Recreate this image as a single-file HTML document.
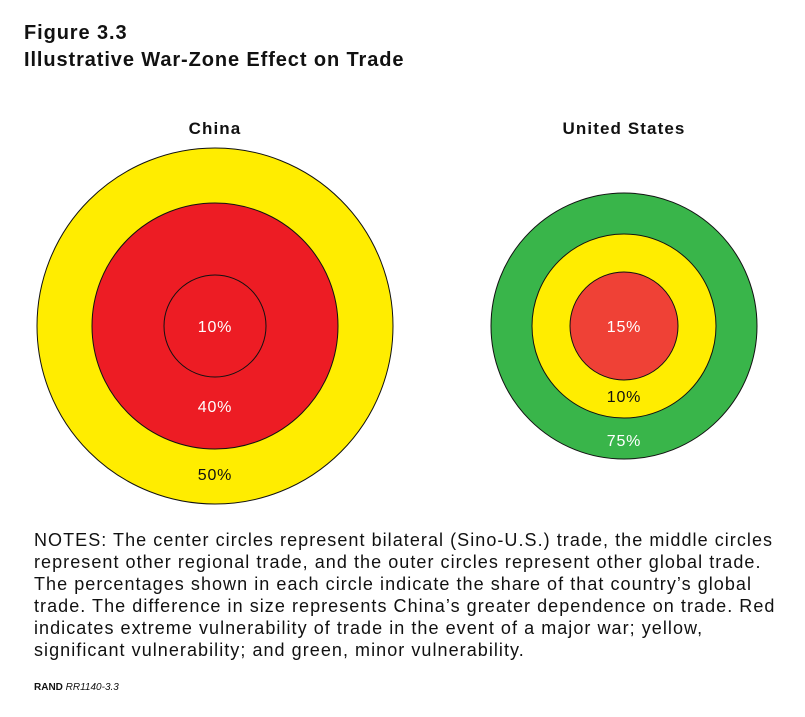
<!DOCTYPE html>
<html><head><meta charset="utf-8">
<style>
body{margin:0;background:#fff;font-family:"Liberation Sans",sans-serif;}
#wrap{position:relative;width:805px;height:717px;overflow:hidden}
.t{position:absolute;left:24px;font-weight:bold;font-size:20px;color:#111;letter-spacing:0.9px}
#notes{position:absolute;left:34px;top:529px;font-size:18px;line-height:22px;color:#111;white-space:nowrap;letter-spacing:1.05px}
#src{position:absolute;left:34px;top:682px;font-size:10px;color:#111}
</style></head><body>
<div id="wrap">
<div class="t" style="top:22px">Figure 3.3</div>
<div class="t" style="top:49px">Illustrative War-Zone Effect on Trade</div>
<svg id="chart" width="805" height="520" style="position:absolute;left:0;top:0"></svg>
<div id="notes">NOTES: The center circles represent bilateral (Sino-U.S.) trade, the middle circles<br>represent other regional trade, and the outer circles represent other global trade.<br>The percentages shown in each circle indicate the share of that country’s global<br>trade. The difference in size represents China’s greater dependence on trade. Red<br>indicates extreme vulnerability of trade in the event of a major war; yellow,<br>significant vulnerability; and green, minor vulnerability.</div>
<div id="src"><b>RAND</b> <i>RR1140-3.3</i></div>
</div>
<script>
const countries=["China","United States"];
const chinaShares=[10,40,50];
const usShares=[15,10,75];
const chinaRadii=[51,123,178];
const usRadii=[54,92,133];
const chinaColors=["#ED1C24","#ED1C24","#FFED00"];
const usColors=["#EF4136","#FFED00","#39B54A"];
const chinaLabelY=[326,406,474];
const usLabelY=[326,396,440];
const chinaText=["#fff","#fff","#111"];
const usText=["#fff","#111","#fff"];
const NS="http://www.w3.org/2000/svg";
const svg=document.getElementById('chart');
function mk(t,a){const e=document.createElementNS(NS,t);for(const k in a)e.setAttribute(k,a[k]);svg.appendChild(e);return e;}
function drawTarget(name,cx,cy,shares,radii,colors,labelY,txt,key){
  const h=mk('text',{x:cx,y:134,'text-anchor':'middle','font-size':17,'font-weight':'bold',fill:'#111','letter-spacing':1.1});
  h.textContent=name;
  
  
  for(let i=radii.length-1;i>=0;i--){
    const c=mk('circle',{cx:cx,cy:cy,r:radii[i],fill:colors[i],stroke:'#111','stroke-width':1});
    
    
  }
  shares.forEach((s,i)=>{
    const t=mk('text',{x:cx,y:labelY[i]+6,'text-anchor':'middle','font-size':16,fill:txt[i],'letter-spacing':0.8});
    t.textContent=s+'%';
    
    
  });
}
drawTarget(countries[0],215,326,chinaShares,chinaRadii,chinaColors,chinaLabelY,chinaText,'china');
drawTarget(countries[1],624,326,usShares,usRadii,usColors,usLabelY,usText,'us');
</script>
</body></html>
